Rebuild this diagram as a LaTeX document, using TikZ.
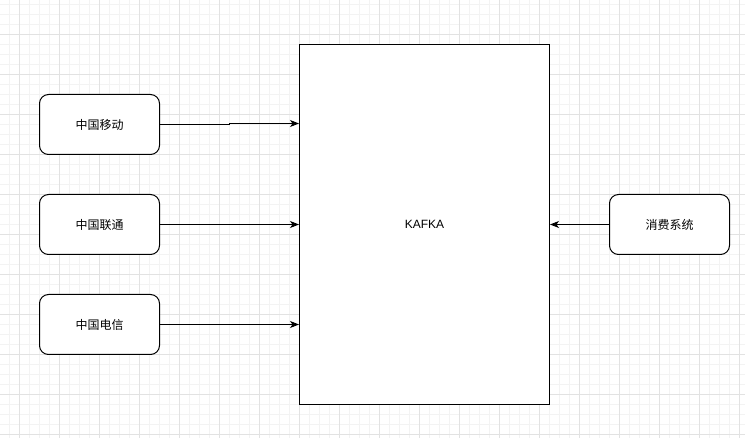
\documentclass[tikz,border=0pt]{standalone}
\usepackage{fontspec}
\setmainfont{Liberation Sans}
\newfontfamily\cjk{Noto Sans CJK SC}
\usetikzlibrary{arrows.meta}
\definecolor{gridminor}{HTML}{F3F3F3}
\definecolor{gridmajor}{HTML}{E2E2E2}
\tikzset{
  srcbox/.style={draw=black, line width=1pt, rounded corners=9pt, minimum width=120pt, minimum height=60pt, inner sep=0pt, font=\cjk\fontsize{12}{14}\selectfont, fill=white},
  bigbox/.style={draw=black, line width=1pt, minimum width=250pt, minimum height=360pt, inner sep=0pt, font=\fontsize{12}{14}\selectfont, fill=white},
  conn/.style={line width=1pt, -{Stealth[length=9pt, width=7pt, inset=2.5pt]}}
}
\begin{document}
\begin{tikzpicture}[x=1pt, y=-1pt]
\useasboundingbox (0,0) rectangle (745,438);
\fill[white] (0,0) rectangle (745,438);
% grid
\foreach \i in {0,...,74} {
  \pgfmathsetmacro{\xx}{9.5+10*\i}
  \draw[gridminor, line width=0.8pt] (\xx,0) -- (\xx,438);
}
\foreach \i in {0,...,43} {
  \pgfmathsetmacro{\yy}{4.5+10*\i}
  \draw[gridminor, line width=0.8pt] (0,\yy) -- (745,\yy);
}
\foreach \i in {0,...,18} {
  \pgfmathsetmacro{\xx}{19.5+40*\i}
  \draw[gridmajor, line width=0.8pt] (\xx,0) -- (\xx,438);
}
\foreach \i in {0,...,10} {
  \pgfmathsetmacro{\yy}{34.5+40*\i}
  \draw[gridmajor, line width=0.8pt] (0,\yy) -- (745,\yy);
}
% nodes
\node[srcbox] (cm) at (99.5,124.5) {中国移动};
\node[srcbox] (cu) at (99.5,224.5) {中国联通};
\node[srcbox] (ct) at (99.5,324.5) {中国电信};
\node[bigbox] (kafka) at (424.5,224.5) {KAFKA};
\node[srcbox] (cons) at (669.5,224.5) {消费系统};
% connectors
\coordinate (j1) at (229.5,124.5);
\coordinate (j2) at (229.5,123.5);
\draw[conn] (cm.east) -- (j1) -- (j2) -- (j2 -| kafka.west);
\draw[conn] (cu.east) -- (cu.east -| kafka.west);
\draw[conn] (ct.east) -- (ct.east -| kafka.west);
\draw[conn] (cons.west) -- (cons.west -| kafka.east);
\end{tikzpicture}
\end{document}
